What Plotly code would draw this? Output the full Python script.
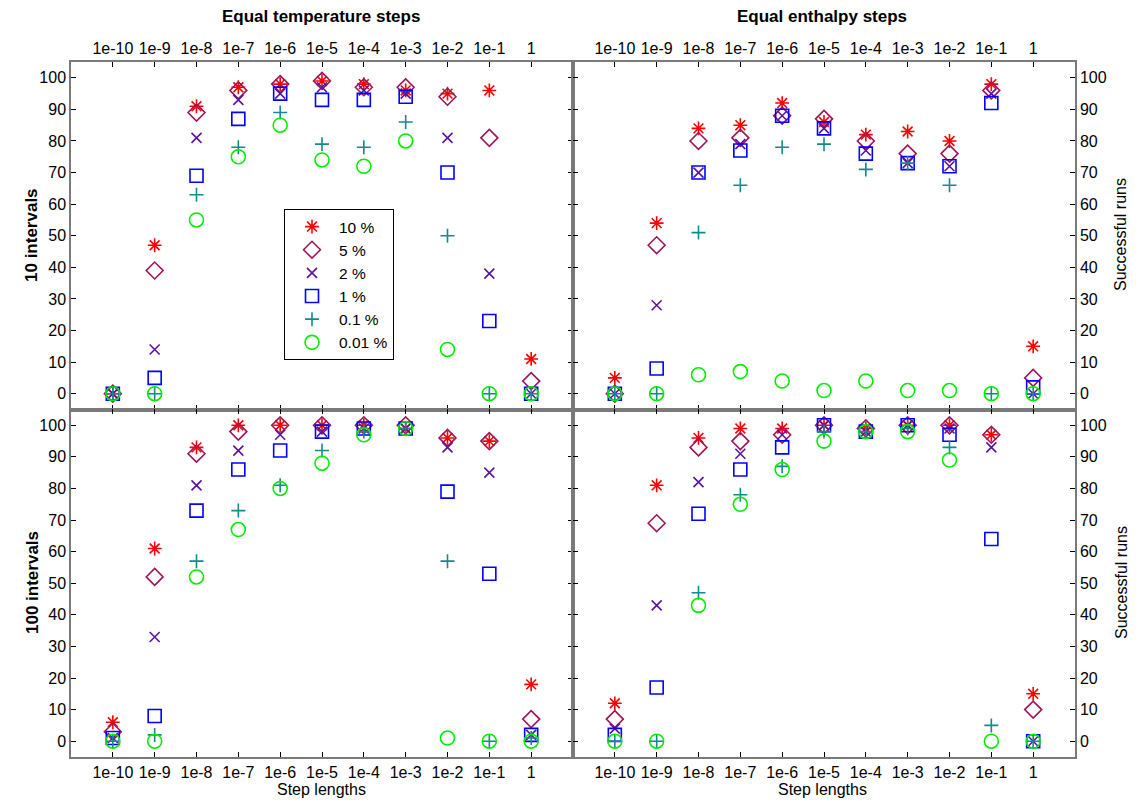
import plotly.graph_objects as go
from plotly.subplots import make_subplots

# ---------------- data ----------------
step_labels = ["1e-10", "1e-9", "1e-8", "1e-7", "1e-6", "1e-5", "1e-4", "1e-3", "1e-2", "1e-1", "1"]
tolerances = ["10 %", "5 %", "2 %", "1 %", "0.1 %", "0.01 %"]
y_ticks = [0, 10, 20, 30, 40, 50, 60, 70, 80, 90, 100]

# Equal temperature steps, 10 intervals (rows: 10 %, 5 %, 2 %, 1 %, 0.1 %, 0.01 %)
temp_10 = [
    [0, 47, 91, 97, 98, 99, 98, 96, 95, 96, 11],
    [0, 39, 89, 96, 98, 99, 97, 97, 94, 81, 4],
    [0, 14, 81, 93, 95, 97, 96, 95, 81, 38, 0],
    [0, 5, 69, 87, 95, 93, 93, 94, 70, 23, 0],
    [0, 0, 63, 78, 89, 79, 78, 86, 50, 0, 0],
    [0, 0, 55, 75, 85, 74, 72, 80, 14, 0, 0],
]
# Equal enthalpy steps, 10 intervals
enth_10 = [
    [5, 54, 84, 85, 92, 86, 82, 83, 80, 98, 15],
    [0, 47, 80, 81, 88, 87, 80, 76, 76, 96, 5],
    [0, 28, 70, 79, 88, 84, 77, 73, 72, 95, 0],
    [0, 8, 70, 77, 88, 84, 76, 73, 72, 92, 2],
    [0, 0, 51, 66, 78, 79, 71, 73, 66, 0, 0],
    [0, 0, 6, 7, 4, 1, 4, 1, 1, 0, 0],
]
# Equal temperature steps, 100 intervals
temp_100 = [
    [6, 61, 93, 100, 100, 100, 100, 99, 96, 95, 18],
    [3, 52, 91, 98, 100, 100, 100, 100, 96, 95, 7],
    [1, 33, 81, 92, 97, 98, 99, 99, 93, 85, 2],
    [1, 8, 73, 86, 92, 98, 99, 99, 79, 53, 2],
    [0, 2, 57, 73, 81, 92, 98, 99, 57, 0, 1],
    [0, 0, 52, 67, 80, 88, 97, 99, 1, 0, 0],
]
# Equal enthalpy steps, 100 intervals
enth_100 = [
    [12, 81, 96, 99, 99, 100, 99, 100, 100, 97, 15],
    [7, 69, 93, 95, 97, 100, 99, 100, 100, 97, 10],
    [4, 43, 82, 91, 97, 100, 98, 100, 99, 93, 0],
    [2, 17, 72, 86, 93, 100, 98, 100, 97, 64, 0],
    [0, 0, 47, 78, 87, 98, 98, 99, 93, 5, 0],
    [0, 0, 43, 75, 86, 95, 98, 98, 89, 0, 0],
]

# ---------------- styles ----------------
symbols = ["asterisk-open", "diamond-open", "x-thin-open", "square-open", "cross-thin-open", "circle-open"]
colors = ["#ff0000", "#a0145a", "#5a14a0", "#0000ff", "#138a8a", "#00ee00"]
sizes = [11.5, 13, 10, 13, 10, 14]

FONT = "Liberation Sans, Arial, sans-serif"
AXIS_COLOR = "#7a7a7a"

fig = make_subplots(rows=2, cols=2, horizontal_spacing=0, vertical_spacing=0)

panels = [(temp_10, 1, 1), (enth_10, 1, 2), (temp_100, 2, 1), (enth_100, 2, 2)]
x_idx = list(range(len(step_labels)))
for pi, (data, r, c) in enumerate(panels):
    for k, tol in enumerate(tolerances):
        fig.add_trace(
            go.Scatter(
                x=x_idx,
                y=data[k],
                mode="markers",
                name=tol,
                showlegend=(pi == 0),
                marker=dict(symbol=symbols[k], size=sizes[k], color=colors[k],
                            line=dict(color=colors[k], width=1.6)),
            ),
            row=r, col=c,
        )

for r in (1, 2):
    for c in (1, 2):
        fig.update_xaxes(
            row=r, col=c,
            range=[-1, 11], tickmode="array", tickvals=x_idx, ticktext=step_labels,
            side="top" if r == 1 else "bottom",
            ticks="inside", ticklen=5, tickcolor="#000000", tickwidth=1,
            showline=True, linecolor=AXIS_COLOR, linewidth=1.5, mirror="ticks",
            showgrid=False, zeroline=False,
            tickfont=dict(family=FONT, size=16, color="#000000"),
        )
        fig.update_yaxes(
            row=r, col=c,
            range=[-5, 105], tickmode="array", tickvals=y_ticks,
            side="left" if c == 1 else "right",
            ticks="inside", ticklen=5, tickcolor="#000000", tickwidth=1,
            showline=True, linecolor=AXIS_COLOR, linewidth=1.5, mirror="ticks",
            showgrid=False, zeroline=False,
            tickfont=dict(family=FONT, size=16, color="#000000"),
        )

# page has an 8 px body margin; size the figure so the plot lands where the reference has it
OFF = 8
W, H = 1136 - OFF, 803 - OFF
ml, mr, mt, mb = 71 - OFF, 61, 62 - OFF, 46
pw, ph = W - ml - mr, H - mt - mb


def px_x(x):
    return (x - OFF - ml) / pw


def px_y(y):
    return 1 - (y - OFF - mt) / ph


annotations = [
    dict(text="<b>Equal temperature steps</b>", x=px_x(321), y=px_y(17), font=dict(size=17)),
    dict(text="<b>Equal enthalpy steps</b>", x=px_x(822), y=px_y(17), font=dict(size=17)),
    dict(text="<b>10 intervals</b>", x=px_x(32), y=px_y(235), textangle=-90, font=dict(size=17)),
    dict(text="<b>100 intervals</b>", x=px_x(32), y=px_y(583), textangle=-90, font=dict(size=17)),
    dict(text="Successful runs", x=px_x(1121), y=px_y(235), textangle=-90, font=dict(size=16)),
    dict(text="Successful runs", x=px_x(1121), y=px_y(583), textangle=-90, font=dict(size=16)),
    dict(text="Step lengths", x=px_x(321), y=px_y(789), font=dict(size=16)),
    dict(text="Step lengths", x=px_x(822), y=px_y(789), font=dict(size=16)),
]
for a in annotations:
    a.update(xref="paper", yref="paper", showarrow=False, xanchor="center", yanchor="middle")
    a["font"].update(family=FONT, color="#000000")

fig.update_layout(
    width=W, height=H,
    margin=dict(l=ml, r=mr, t=mt, b=mb, pad=0),
    paper_bgcolor="white", plot_bgcolor="white",
    font=dict(family=FONT, size=16, color="#000000"),
    annotations=annotations,
    legend=dict(
        x=px_x(284), y=px_y(209), xanchor="left", yanchor="top",
        bgcolor="white", bordercolor="#000000", borderwidth=1,
        font=dict(family=FONT, size=15.5, color="#000000"),
        itemwidth=44, tracegroupgap=0,
    ),
)

fig.write_html("out.html")
